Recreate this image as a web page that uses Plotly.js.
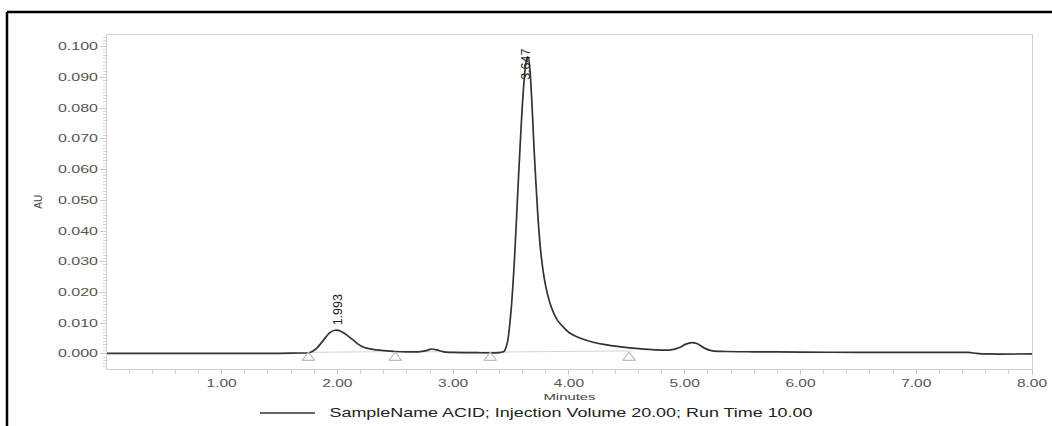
<!DOCTYPE html>
<html>
<head>
<meta charset="utf-8">
<script src="https://cdn.plot.ly/plotly-3.0.1.min.js"></script>
<style>
  html, body { margin: 0; padding: 0; background: #fff; }
  #chart { width: 1052px; height: 426px; }
</style>
</head>
<body>
<div id="chart"></div>
<script>
// Chromatogram trace (minutes, AU)
const timeMin = [0.01, 0.5, 1.0, 1.5, 1.7, 1.76, 1.82, 1.88, 1.93, 1.98, 2.03, 2.08, 2.14, 2.20, 2.26, 2.32, 2.40, 2.50, 2.60, 2.70, 2.76, 2.81, 2.86, 2.92, 3.00, 3.20, 3.40, 3.44, 3.47, 3.50, 3.53, 3.56, 3.59, 3.615, 3.635, 3.650, 3.665, 3.68, 3.70, 3.73, 3.76, 3.80, 3.85, 3.90, 3.95, 4.00, 4.10, 4.20, 4.30, 4.45, 4.60, 4.75, 4.88, 4.95, 5.01, 5.06, 5.11, 5.17, 5.24, 5.35, 5.6, 6.0, 6.5, 7.0, 7.45, 7.52, 7.6, 8.0];
const absorbanceAU = [0.0002, 0.0002, 0.0002, 0.0002, 0.0003, 0.0004, 0.0018, 0.0045, 0.0068, 0.0077, 0.0074, 0.0062, 0.0044, 0.0027, 0.0018, 0.0014, 0.0011, 0.0008, 0.0007, 0.0007, 0.0010, 0.0016, 0.0013, 0.0007, 0.0005, 0.0004, 0.0004, 0.0008, 0.0040, 0.0140, 0.0310, 0.0540, 0.0760, 0.0900, 0.0960, 0.0965, 0.0915, 0.0820, 0.0660, 0.0460, 0.0320, 0.0220, 0.0150, 0.0110, 0.0088, 0.0070, 0.0051, 0.0039, 0.0031, 0.0023, 0.0017, 0.0013, 0.0013, 0.0020, 0.0032, 0.0037, 0.0033, 0.0019, 0.0010, 0.0008, 0.0007, 0.0006, 0.0005, 0.0005, 0.0005, 0.0002, 0.0000, 0.0000];

// Integration markers (peak start / end triangles) and baseline
const markerTimes = [1.75, 2.50, 3.32, 4.52];
const markerAU = [-0.0012, -0.0012, -0.0012, -0.0012];
const baselineTimes = [1.75, 2.50, 3.32, 4.55];
const baselineAU = [0.0005, 0.0008, 0.0006, 0.0010];

// Peak retention-time labels
const peakLabels = ["1.993", "3.647"];
const peakLabelTimes = [2.005, 3.635];
const peakLabelAU = [0.0088, 0.0886];

const legendText = "SampleName ACID; Injection Volume 20.00; Run Time 10.00";
const xAxisTitle = "Minutes";
const yAxisTitle = "AU";

const FONT = "Liberation Sans, Arial, sans-serif";

const traces = [
  {
    x: baselineTimes, y: baselineAU, type: "scatter", mode: "lines",
    line: { color: "#d4d4d4", width: 1 }, hoverinfo: "skip", showlegend: false
  },
  {
    x: timeMin, y: absorbanceAU, type: "scatter", mode: "lines",
    line: { color: "#333", width: 1.7, shape: "spline", smoothing: 0.6 },
    showlegend: false
  },
  {
    x: markerTimes, y: markerAU, type: "scatter", mode: "markers",
    marker: { symbol: "triangle-up-open", size: 11, color: "#bdbdbd", line: { width: 1.2, color: "#bdbdbd" } },
    showlegend: false, cliponaxis: false
  }
];

const annotations = peakLabels.map((t, i) => ({
  x: peakLabelTimes[i], y: peakLabelAU[i], xref: "x", yref: "y",
  text: t, showarrow: false, textangle: -90,
  xanchor: "center", yanchor: "bottom",
  font: { family: FONT, size: 12.5, color: "#222" }
}));

annotations.push({
  xref: "paper", yref: "paper", x: 0.502, y: -0.1317,
  xanchor: "center", yanchor: "middle", showarrow: false,
  text: legendText, font: { family: FONT, size: 13.5, color: "#222" }
});
annotations.push({
  xref: "paper", yref: "paper", x: -0.0735, y: 0.501,
  xanchor: "center", yanchor: "middle", showarrow: false, textangle: -90,
  text: yAxisTitle, font: { family: FONT, size: 10, color: "#444" }
});

const layout = {
  width: 1052, height: 426,
  margin: { l: 107, r: 20, t: 35, b: 57 },
  paper_bgcolor: "#fff", plot_bgcolor: "#fff",
  font: { family: FONT, color: "#555" },
  showlegend: false,
  xaxis: {
    range: [0.01, 8.0],
    tickmode: "linear", tick0: 0, dtick: 1, tickformat: ".2f",
    ticks: "outside", ticklen: 5, tickcolor: "#c8c8c8", tickwidth: 1,
    minor: { dtick: 0.2, tick0: 0, ticks: "outside", ticklen: 4, tickcolor: "#d0d0d0", showgrid: false },
    showline: true, linecolor: "#d0d0d0", linewidth: 1, mirror: true,
    showgrid: false, zeroline: false,
    tickfont: { family: FONT, size: 10, color: "#555" },
    title: { text: xAxisTitle, font: { family: FONT, size: 9, color: "#444" }, standoff: 5 }
  },
  yaxis: {
    range: [-0.0049, 0.1038],
    tickmode: "linear", tick0: 0, dtick: 0.01, tickformat: ".3f",
    ticks: "outside", ticklen: 6, tickcolor: "#c8c8c8", tickwidth: 1,
    minor: { dtick: 0.001, tick0: 0, ticks: "outside", ticklen: 3, tickcolor: "#d8d8d8", showgrid: false },
    showline: true, linecolor: "#d0d0d0", linewidth: 1, mirror: true,
    showgrid: false, zeroline: false,
    tickfont: { family: FONT, size: 10, color: "#555" }
  },
  annotations: annotations,
  shapes: [
    // outer black frame (top and left edges)
    { type: "line", xref: "paper", yref: "paper", x0: -0.1081, x1: 1.06, y0: 1.0689, y1: 1.0689, line: { color: "#000", width: 2.5 } },
    { type: "line", xref: "paper", yref: "paper", x0: -0.1081, x1: -0.1081, y0: 1.0689, y1: -0.18, line: { color: "#000", width: 2.5 } },
    // legend sample line
    { type: "line", xref: "paper", yref: "paper", x0: 0.1654, x1: 0.2249, y0: -0.1317, y1: -0.1317, line: { color: "#333", width: 1.3 } }
  ]
};

Plotly.newPlot("chart", traces, layout, { displayModeBar: false, staticPlot: true }).then(gd => {
  // The reference's lettering is horizontally wide; widen the glyphs to match
  const widen = (nodes, factor, target) => nodes.forEach(t => {
    const w = t.getComputedTextLength();
    t.setAttribute("textLength", target || w * factor);
    t.setAttribute("lengthAdjust", "spacingAndGlyphs");
  });
  widen(gd.querySelectorAll(".ytick text"), 1.6);
  widen(gd.querySelectorAll(".xtick text"), 1.55);
  widen(gd.querySelectorAll(".xtitle"), 1.65);
  const legendNodes = Array.from(gd.querySelectorAll(".annotation-text")).filter(t => t.textContent === legendText);
  widen(legendNodes, 1, 483);
});
</script>
</body>
</html>
